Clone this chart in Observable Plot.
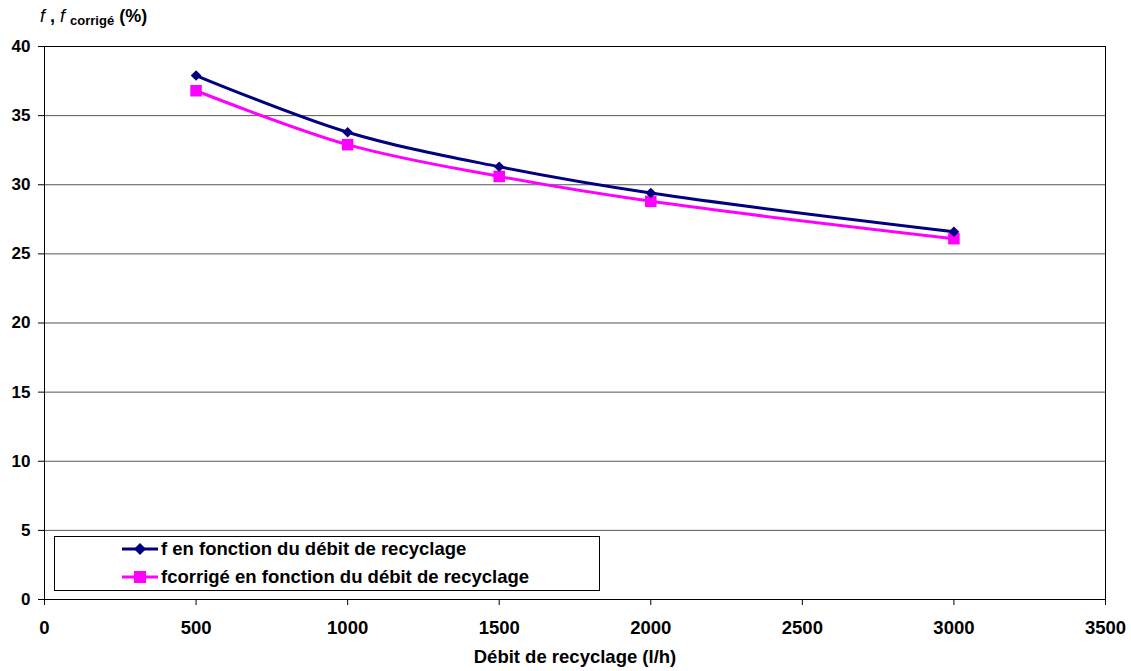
<!DOCTYPE html>
<html>
<head>
<meta charset="utf-8">
<script src="https://cdn.jsdelivr.net/npm/d3@7"></script>
<script src="https://cdn.jsdelivr.net/npm/@observablehq/plot@0.6"></script>
<style>
  html, body { margin: 0; padding: 0; background: #fff; }
  #wrap { position: relative; width: 1131px; height: 671px; font-family: "Liberation Sans", Arial, sans-serif; }
  #chart svg text { font-weight: bold; }
  #ytitle { position: absolute; left: 40px; top: 6px; font-size: 18px; font-weight: bold; color: #000; white-space: nowrap; }
  #ytitle i { font-weight: normal; }
  #ytitle sub { font-size: 13px; vertical-align: -3px; }
  #legend { position: absolute; left: 54px; top: 536px; width: 546px; height: 55px; border: 1px solid #000; background: #fff; box-sizing: border-box; }
  .item { position: absolute; left: 67px; height: 22px; display: flex; align-items: center; font-size: 18.5px; font-weight: bold; white-space: nowrap; }
  .item svg { margin-right: 3px; }
</style>
</head>
<body>
<div id="wrap">
  <div id="chart"></div>
  <div id="ytitle"><i>f</i> , <i>f</i> <sub>corrigé</sub> (%)</div>
  <div id="legend"></div>
</div>
<script>
const debit = [500, 1000, 1500, 2000, 3000];
const fValues = [37.9, 33.8, 31.3, 29.4, 26.6];
const fCorrigeValues = [36.8, 32.9, 30.6, 28.8, 26.1];
const seriesNames = ["f en fonction du débit de recyclage", "fcorrigé en fonction du débit de recyclage"];
const seriesColors = ["#000080", "#FF00FF"];
const xTicks = [0, 500, 1000, 1500, 2000, 2500, 3000, 3500];
const yTicks = [0, 5, 10, 15, 20, 25, 30, 35, 40];

const data = [
  ...debit.map((d, i) => ({x: d, y: fValues[i], s: seriesNames[0]})),
  ...debit.map((d, i) => ({x: d, y: fCorrigeValues[i], s: seriesNames[1]}))
];
const dF = data.filter(d => d.s === seriesNames[0]);
const dC = data.filter(d => d.s === seriesNames[1]);

const chart = Plot.plot({
  width: 1131,
  height: 671,
  marginLeft: 44,
  marginRight: 26,
  marginTop: 46,
  marginBottom: 72,
  style: {fontFamily: "'Liberation Sans', Arial, sans-serif", fontSize: "17px", color: "#000", background: "#fff"},
  x: {domain: [0, 3500]},
  y: {domain: [0, 40]},
  marks: [
    Plot.gridY(yTicks, {stroke: "#555", strokeOpacity: 1, strokeWidth: 1}),
    Plot.frame({stroke: "#000", strokeWidth: 1}),
    Plot.axisY({ticks: yTicks, tickFormat: d => String(d), tickSize: 6, tickPadding: 8, label: null, fontSize: 17}),
    Plot.axisX({ticks: xTicks, tickFormat: d => String(d), tickSize: 6, tickPadding: 15, label: "Débit de recyclage (l/h)", labelAnchor: "center", labelArrow: "none", labelOffset: 63, fontSize: 18.5}),
    Plot.line(dC, {x: "x", y: "y", stroke: seriesColors[1], strokeWidth: 3, curve: "catmull-rom"}),
    Plot.line(dF, {x: "x", y: "y", stroke: seriesColors[0], strokeWidth: 3, curve: "catmull-rom"}),
    Plot.dot(dC, {x: "x", y: "y", symbol: "square", r: 6.5, fill: seriesColors[1], stroke: null}),
    Plot.dot(dF, {x: "x", y: "y", symbol: "diamond2", r: 4.8, fill: seriesColors[0], stroke: null})
  ]
});
document.getElementById("chart").appendChild(chart);

// legend
const legend = document.getElementById("legend");
const swatch = (i) => {
  const c = seriesColors[i];
  const marker = i === 0
    ? `<path d="M18,5 L24,11 L18,17 L12,11 Z" fill="${c}"/>`
    : `<rect x="12" y="5" width="12" height="12" fill="${c}"/>`;
  return `<svg width="36" height="22"><line x1="0" y1="11" x2="36" y2="11" stroke="${c}" stroke-width="3"/>${marker}</svg>`;
};
seriesNames.forEach((name, i) => {
  const div = document.createElement("div");
  div.className = "item";
  div.style.top = (i === 0 ? 1 : 29) + "px";
  div.innerHTML = swatch(i) + `<span>${name}</span>`;
  legend.appendChild(div);
});
</script>
</body>
</html>
